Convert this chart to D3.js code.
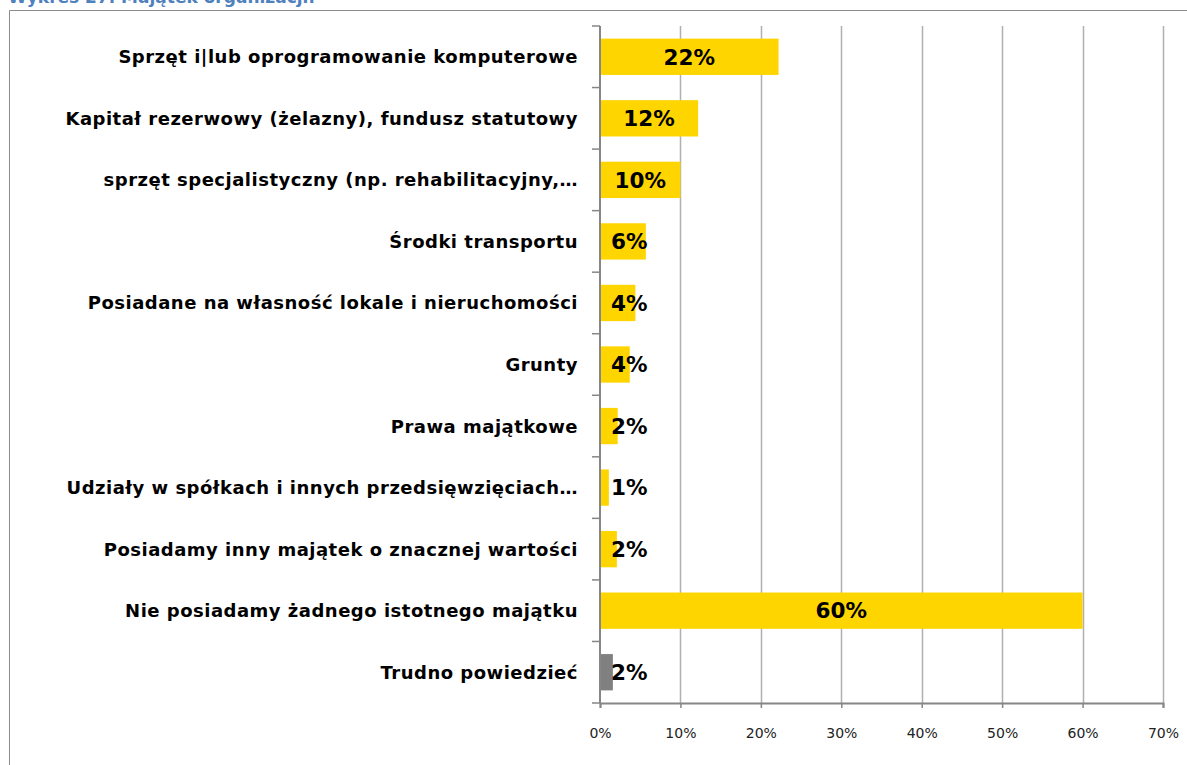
<!DOCTYPE html>
<html>
<head>
<meta charset="utf-8">
<script src="https://cdn.jsdelivr.net/npm/d3@7"></script>
<style>
  body { margin: 0; background: #fff; }
  svg { display: block; }
</style>
</head>
<body>
<script>
// chart data
var categories = [
    "Sprzęt i|lub oprogramowanie komputerowe",
    "Kapitał rezerwowy (żelazny), fundusz statutowy",
    "sprzęt specjalistyczny (np. rehabilitacyjny,…",
    "Środki transportu",
    "Posiadane na własność lokale i nieruchomości",
    "Grunty",
    "Prawa majątkowe",
    "Udziały w spółkach i innych przedsięwzięciach…",
    "Posiadamy inny majątek o znacznej wartości",
    "Nie posiadamy żadnego istotnego majątku",
    "Trudno powiedzieć"
];
var values = [22.2, 12.2, 10.0, 5.7, 4.4, 3.7, 2.2, 1.1, 2.1, 60.0, 1.6];
var valueLabels = ["22%", "12%", "10%", "6%", "4%", "4%", "2%", "1%", "2%", "60%", "2%"];
var tickValues = [0, 10, 20, 30, 40, 50, 60, 70];

var width = 1187,
    height = 765;

//plot area (note: "top" is reserved on window, so prefix these)
var plotLeft = 600, plotRight = 1163, plotTop = 26, plotBottom = 703;

var boldFont = "'DejaVu Sans', sans-serif";

var svg = d3.select("body")
    .append("svg")
    .attr("width", width)
    .attr("height", height);

//cut-off title at the very top
svg.append("text")
    .attr("x", 8)
    .attr("y", 2.5)
    .style("font-family", boldFont)
    .style("font-weight", "bold")
    .style("font-size", "17px")
    .style("fill", "#4f81bd")
    .text("Wykres 27. Majątek organizacji.");

//chart frame (left and top edge visible)
svg.append("path")
    .attr("d", "M9.5," + height + "V10.5H" + width)
    .attr("fill", "none")
    .attr("stroke", "#8c8c8c")
    .attr("stroke-width", 1);

var x = d3.scaleLinear()
    .domain([0, 70])
    .range([plotLeft, plotRight]);

var y = d3.scaleBand()
    .domain(categories)
    .range([plotTop, plotBottom])
    .paddingInner(0.41)
    .paddingOuter(0.205);

var step = y.step();

//vertical gridlines
svg.selectAll(".grid")
    .data(tickValues.slice(1))
    .enter()
    .append("line")
    .attr("class", "grid")
    .attr("x1", function(d){ return Math.round(x(d)) + 0.5; })
    .attr("x2", function(d){ return Math.round(x(d)) + 0.5; })
    .attr("y1", plotTop)
    .attr("y2", plotBottom)
    .attr("stroke", "#b0b0b0")
    .attr("stroke-width", 1.5);

//x axis
var xAxis = svg.append("g")
    .attr("transform", "translate(0," + plotBottom + ")")
    .call(d3.axisBottom(x)
        .tickValues(tickValues)
        .tickSize(5)
        .tickFormat(function(d){ return d + "%"; }));
xAxis.select(".domain").attr("stroke", "#868686").attr("stroke-width", 2);
xAxis.selectAll(".tick line").attr("stroke", "#868686").attr("stroke-width", 1.5);
xAxis.selectAll(".tick text")
    .attr("y", 25)
    .style("font-family", "'DejaVu Sans', sans-serif")
    .style("font-size", "14px")
    .style("fill", "#222");

//category separator ticks on the y axis
svg.selectAll(".ytick")
    .data(d3.range(categories.length + 1))
    .enter()
    .append("line")
    .attr("class", "ytick")
    .attr("x1", plotLeft - 8)
    .attr("x2", plotLeft)
    .attr("y1", function(i){ return plotTop + i * step; })
    .attr("y2", function(i){ return plotTop + i * step; })
    .attr("stroke", "#868686")
    .attr("stroke-width", 1.5);

//y axis line
svg.append("line")
    .attr("x1", plotLeft)
    .attr("x2", plotLeft)
    .attr("y1", plotTop)
    .attr("y2", plotBottom)
    .attr("stroke", "#868686")
    .attr("stroke-width", 2);

//bars
svg.selectAll(".bar")
    .data(values)
    .enter()
    .append("rect")
    .attr("class", "bar")
    .attr("x", plotLeft + 1)
    .attr("y", function(d, i){ return y(categories[i]); })
    .attr("width", function(d){ return x(d) - plotLeft - 1; })
    .attr("height", y.bandwidth())
    .attr("fill", function(d, i){ return i == categories.length - 1 ? "#808080" : "#ffd500"; });

//category labels
svg.selectAll(".cat")
    .data(categories)
    .enter()
    .append("text")
    .attr("class", "cat")
    .attr("x", 578)
    .attr("y", function(d){ return y(d) + y.bandwidth() / 2; })
    .attr("dy", "0.36em")
    .attr("text-anchor", "end")
    .style("font-family", boldFont)
    .style("font-weight", "bold")
    .style("font-size", "18px")
    .style("letter-spacing", "0.5px")
    .style("fill", "#000")
    .text(function(d){ return d; });

//value labels, centred in the bar unless the bar is too narrow
svg.selectAll(".val")
    .data(values)
    .enter()
    .append("text")
    .attr("class", "val")
    .attr("y", function(d, i){ return y(categories[i]) + y.bandwidth() / 2; })
    .attr("dy", "0.36em")
    .attr("text-anchor", "middle")
    .style("font-family", boldFont)
    .style("font-weight", "bold")
    .style("font-size", "21.5px")
    .style("fill", "#000")
    .text(function(d, i){ return valueLabels[i]; })
    .attr("x", function(d){
        var w = this.getComputedTextLength();
        return Math.max((plotLeft + x(d)) / 2, plotLeft + 11 + w / 2);
    });
</script>
</body>
</html>
